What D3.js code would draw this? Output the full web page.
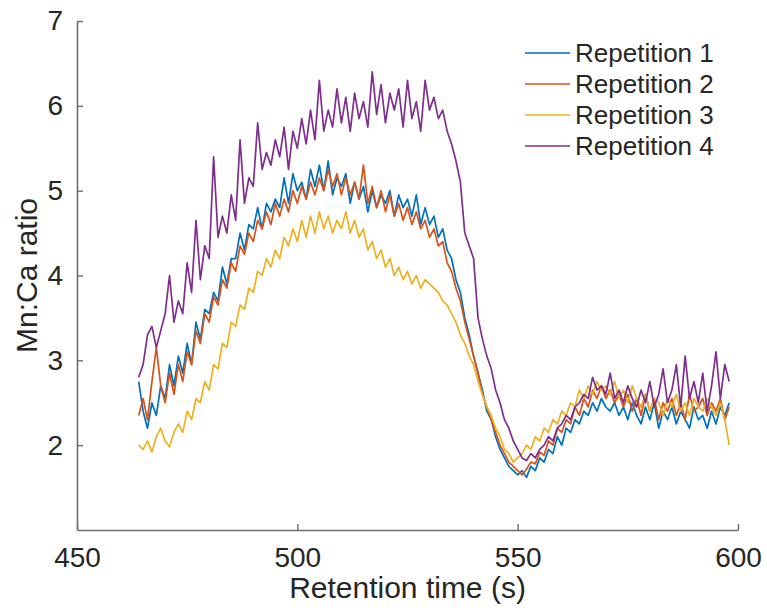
<!DOCTYPE html>
<html>
<head>
<meta charset="utf-8">
<script src="https://cdn.jsdelivr.net/npm/d3@7"></script>
<style>
  html, body { margin: 0; padding: 0; background: #fff; }
  svg { display: block; font-family: "Liberation Sans", Arial, sans-serif; }
</style>
</head>
<body>
<div id="chart"></div>
<script>
// retention time (s), one reading per second
const times = [
  464, 465, 466, 467, 468, 469, 470, 471, 472, 473,
  474, 475, 476, 477, 478, 479, 480, 481, 482, 483,
  484, 485, 486, 487, 488, 489, 490, 491, 492, 493,
  494, 495, 496, 497, 498, 499, 500, 501, 502, 503,
  504, 505, 506, 507, 508, 509, 510, 511, 512, 513,
  514, 515, 516, 517, 518, 519, 520, 521, 522, 523,
  524, 525, 526, 527, 528, 529, 530, 531, 532, 533,
  534, 535, 536, 537, 538, 539, 540, 541, 542, 543,
  544, 545, 546, 547, 548, 549, 550, 551, 552, 553,
  554, 555, 556, 557, 558, 559, 560, 561, 562, 563,
  564, 565, 566, 567, 568, 569, 570, 571, 572, 573,
  574, 575, 576, 577, 578, 579, 580, 581, 582, 583,
  584, 585, 586, 587, 588, 589, 590, 591, 592, 593,
  594, 595, 596, 597, 598
];

const rep1 = [
  2.75, 2.40, 2.20, 2.50, 2.35, 2.70, 2.55, 2.95, 2.70, 3.05,
  2.85, 3.20, 2.95, 3.45, 3.25, 3.60, 3.55, 3.80, 3.70, 4.10,
  3.90, 4.20, 4.20, 4.50, 4.30, 4.60, 4.55, 4.80, 4.55, 4.85,
  4.75, 4.90, 4.80, 5.15, 4.85, 5.20, 5.00, 5.10, 4.90, 5.25,
  5.05, 5.30, 5.00, 5.35, 4.95, 5.15, 5.05, 5.20, 4.85, 5.10,
  4.90, 5.05, 4.75, 5.00, 4.80, 4.95, 4.85, 5.00, 4.70, 4.95,
  4.80, 4.90, 4.70, 4.95, 4.60, 4.80, 4.60, 4.70, 4.45, 4.55,
  4.30, 4.20, 3.95, 3.80, 3.50, 3.30, 3.05, 2.85, 2.65, 2.40,
  2.30, 2.10, 1.95, 1.85, 1.75, 1.70, 1.65, 1.70, 1.62, 1.75,
  1.70, 1.85, 1.80, 1.95, 1.90, 2.10, 2.00, 2.20, 2.15, 2.30,
  2.25, 2.40, 2.35, 2.50, 2.40, 2.55, 2.45, 2.40, 2.50, 2.35,
  2.45, 2.30, 2.50, 2.35, 2.25, 2.45, 2.30, 2.50, 2.20, 2.40,
  2.30, 2.45, 2.25, 2.40, 2.30, 2.20, 2.45, 2.30, 2.35, 2.20,
  2.40, 2.25, 2.45, 2.35, 2.50
];

const rep2 = [
  2.35, 2.55, 2.30, 2.75, 3.15, 2.70, 2.50, 2.85, 2.60, 2.95,
  2.75, 3.10, 2.95, 3.35, 3.20, 3.55, 3.45, 3.75, 3.65, 3.95,
  3.85, 4.15, 4.05, 4.35, 4.25, 4.50, 4.40, 4.65, 4.55, 4.75,
  4.60, 4.85, 4.70, 4.90, 4.75, 5.00, 4.85, 5.05, 4.90, 5.10,
  4.95, 5.15, 5.00, 5.25, 5.05, 5.20, 4.95, 5.15, 4.95, 5.10,
  4.90, 5.30, 4.85, 5.05, 4.80, 5.00, 4.75, 4.95, 4.70, 4.85,
  4.65, 4.80, 4.60, 4.75, 4.55, 4.65, 4.45, 4.55, 4.35, 4.40,
  4.15, 4.05, 3.85, 3.70, 3.45, 3.25, 3.05, 2.85, 2.60, 2.45,
  2.30, 2.15, 2.00, 1.90, 1.80, 1.75, 1.70, 1.65, 1.72, 1.80,
  1.78, 1.92, 1.88, 2.05, 2.00, 2.20, 2.15, 2.30, 2.25, 2.45,
  2.35, 2.55, 2.45, 2.65, 2.55, 2.70, 2.55, 2.65, 2.50, 2.60,
  2.45, 2.60, 2.40, 2.55, 2.35, 2.60, 2.40, 2.55, 2.30, 2.50,
  2.40, 2.55, 2.35, 2.50, 2.30, 2.60, 2.40, 2.45, 2.55, 2.35,
  2.50, 2.40, 2.55, 2.30, 2.45
];

const rep3 = [
  2.00, 1.95, 2.05, 1.92, 2.10, 2.20, 2.05, 1.98, 2.15, 2.25,
  2.15, 2.40, 2.30, 2.55, 2.50, 2.75, 2.65, 2.95, 2.90, 3.20,
  3.15, 3.45, 3.40, 3.65, 3.60, 3.85, 3.80, 4.05, 4.00, 4.20,
  4.10, 4.30, 4.20, 4.45, 4.35, 4.55, 4.40, 4.65, 4.45, 4.70,
  4.50, 4.75, 4.55, 4.70, 4.50, 4.65, 4.55, 4.75, 4.50, 4.65,
  4.45, 4.55, 4.30, 4.40, 4.20, 4.30, 4.10, 4.20, 4.00, 4.10,
  3.95, 4.05, 3.90, 4.00, 3.85, 3.95, 3.90, 3.85, 3.80, 3.70,
  3.65, 3.55, 3.45, 3.30, 3.20, 3.05, 2.95, 2.75, 2.60, 2.45,
  2.35, 2.20, 2.10, 1.95, 1.90, 1.80, 1.85, 1.90, 2.00, 1.95,
  2.10, 2.05, 2.20, 2.15, 2.30, 2.25, 2.40, 2.35, 2.50, 2.45,
  2.65, 2.55, 2.70, 2.60, 2.75, 2.65, 2.70, 2.60, 2.75, 2.55,
  2.65, 2.50, 2.70, 2.55, 2.45, 2.60, 2.40, 2.55, 2.50, 2.35,
  2.55, 2.45, 2.60, 2.40, 2.50, 2.35, 2.55, 2.45, 2.40, 2.55,
  2.45, 2.35, 2.50, 2.30, 2.00
];

const rep4 = [
  2.80, 2.95, 3.30, 3.40, 3.15, 3.35, 3.55, 4.00, 3.45, 3.70,
  3.55, 4.15, 3.80, 4.65, 3.95, 4.35, 4.20, 5.40, 4.45, 4.70,
  4.50, 4.95, 4.65, 5.60, 4.85, 5.15, 5.05, 5.80, 5.25, 5.45,
  5.30, 5.60, 5.40, 5.75, 5.25, 5.70, 5.50, 5.85, 5.55, 5.95,
  5.60, 6.30, 5.70, 5.95, 5.75, 6.20, 5.80, 6.10, 5.70, 6.15,
  5.85, 6.05, 5.75, 6.40, 5.90, 6.25, 5.80, 6.15, 5.95, 6.20,
  5.75, 6.30, 5.85, 6.05, 5.70, 6.30, 5.95, 6.10, 5.85, 5.95,
  5.70, 5.55, 5.35, 5.10, 4.50, 4.35, 4.20, 3.50, 3.25, 3.05,
  2.90, 2.65, 2.50, 2.30, 2.20, 2.05, 1.95, 1.85, 1.82, 1.90,
  1.85, 1.95, 2.00, 2.10, 2.05, 2.20, 2.25, 2.35, 2.30, 2.45,
  2.50, 2.60, 2.55, 2.80, 2.65, 2.70, 2.60, 2.85, 2.55, 2.65,
  2.50, 2.70, 2.55, 2.45, 2.65, 2.50, 2.75, 2.45, 2.60, 2.90,
  2.50, 2.65, 2.95, 2.45, 3.05, 2.55, 2.75, 2.50, 2.85, 2.40,
  2.70, 3.10, 2.55, 2.95, 2.75
];

const seriesNames = ['Repetition 1', 'Repetition 2', 'Repetition 3', 'Repetition 4'];
const seriesColors = ['#0072BD', '#D95319', '#EDB120', '#7E2F8E'];
const xTicks = [450, 500, 550, 600];
const yTicks = [2, 3, 4, 5, 6, 7];

const width = 767;
const height = 616;
const margin = { top: 21, right: 29, bottom: 86, left: 77 };
const axisColor = '#6e6e6e';
const textColor = '#262626';

const svg = d3.select('#chart')
  .append('svg')
  .attr('width', width)
  .attr('height', height);

const x = d3.scaleLinear()
  .domain([450, 600])
  .range([margin.left, width - margin.right]);

const y = d3.scaleLinear()
  .domain([1, 7])
  .range([height - margin.bottom, margin.top]);

// axes (MATLAB style: ticks pointing inward, no box)
const xAxis = svg.append('g')
  .attr('transform', `translate(0,${height - margin.bottom})`)
  .call(d3.axisBottom(x).tickValues(xTicks).tickFormat(d3.format('d'))
    .tickSizeInner(-6).tickSizeOuter(0).tickPadding(17));

const yAxis = svg.append('g')
  .attr('transform', `translate(${margin.left},0)`)
  .call(d3.axisLeft(y).tickValues(yTicks).tickFormat(d3.format('d'))
    .tickSizeInner(-6).tickSizeOuter(0).tickPadding(14));

[xAxis, yAxis].forEach(g => {
  g.select('.domain').attr('stroke', axisColor).attr('stroke-width', 1.6);
  g.selectAll('.tick line').attr('stroke', axisColor).attr('stroke-width', 1.4);
  g.selectAll('.tick text')
    .attr('fill', textColor)
    .style('font-size', '28px')
    .style('font-family', '"Liberation Sans", Arial, sans-serif');
});

// lines
const series = [rep1, rep2, rep3, rep4];
const line = d3.line()
  .x((d, i) => x(times[i]))
  .y(d => y(d));

series.forEach((vals, k) => {
  svg.append('path')
    .datum(vals)
    .attr('fill', 'none')
    .attr('stroke', seriesColors[k])
    .attr('stroke-width', 1.7)
    .attr('stroke-linejoin', 'round')
    .attr('d', line);
});

// axis labels
svg.append('text')
  .attr('x', (margin.left + width - margin.right) / 2)
  .attr('y', 598)
  .attr('text-anchor', 'middle')
  .attr('fill', textColor)
  .style('font-size', '30px')
  .text('Retention time (s)');

svg.append('text')
  .attr('transform', `translate(37,${(margin.top + height - margin.bottom) / 2}) rotate(-90)`)
  .attr('text-anchor', 'middle')
  .attr('fill', textColor)
  .style('font-size', '30px')
  .text('Mn:Ca ratio');

// legend
const legend = svg.append('g');
seriesNames.forEach((name, k) => {
  const ly = 53 + k * 31;
  legend.append('line')
    .attr('x1', 525).attr('x2', 570)
    .attr('y1', ly).attr('y2', ly)
    .attr('stroke', seriesColors[k])
    .attr('stroke-width', 1.6);
  legend.append('text')
    .attr('x', 575)
    .attr('y', ly + 9)
    .attr('fill', textColor)
    .style('font-size', '26px')
    .text(name);
});
</script>
</body>
</html>
